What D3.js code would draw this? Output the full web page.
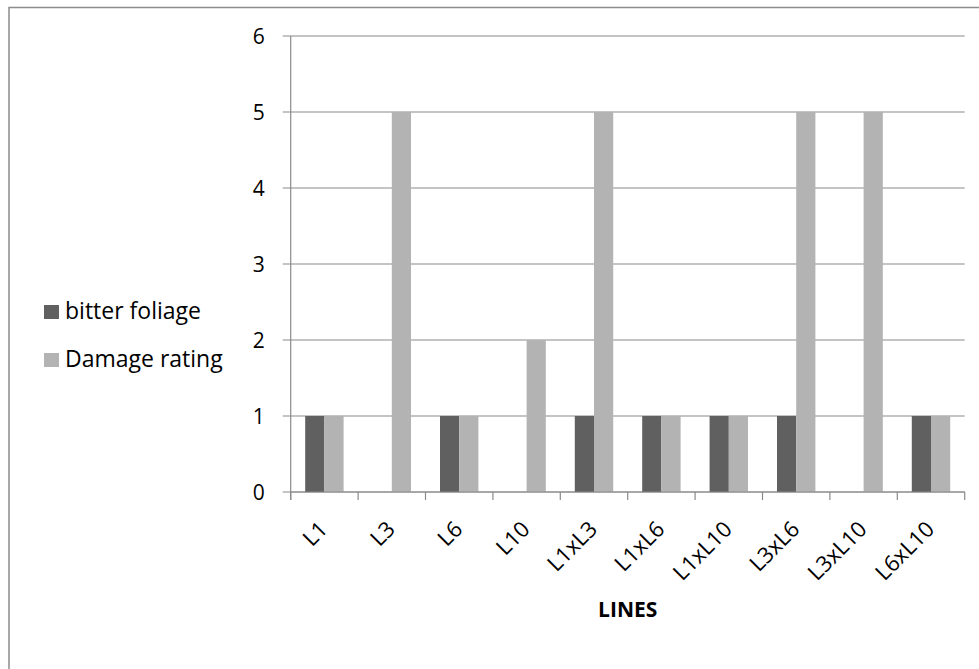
<!DOCTYPE html>
<html><head><meta charset="utf-8">
<script src="https://cdn.jsdelivr.net/npm/d3@7"></script>
<style>body{margin:0;background:#fff}svg{display:block}text{font-family:"Open Sans",sans-serif}</style>
</head><body><svg id="c" width="979" height="669"></svg>
<script>
const categories = ["L1","L3","L6","L10","L1xL3","L1xL6","L1xL10","L3xL6","L3xL10","L6xL10"];
const bitterFoliage = [1,0,1,0,1,1,1,1,0,1];
const damageRating = [1,5,1,2,5,1,1,5,5,1];
const seriesNames = ["bitter foliage","Damage rating"];
const yTicks = [0,1,2,3,4,5,6];
const colors = ["#606060","#b3b3b3"];

const svg = d3.select("#c");
const L = 290.7, R = 964.7, T = 36, B = 492;
// frame
svg.append("rect").attr("x",9).attr("y",7.5).attr("width",1000).attr("height",1000)
  .attr("fill","none").attr("stroke","#8c8c8c").attr("stroke-width",1.5);

const x = d3.scaleBand().domain(categories).range([L,R]).paddingInner(0.43).paddingOuter(0.215);
const x1 = d3.scaleBand().domain([0,1]).range([0,x.bandwidth()]);
const y = d3.scaleLinear().domain([0,6]).range([B,T]);

// gridlines
svg.append("g").selectAll("line").data(yTicks).join("line")
  .attr("x1",L-8).attr("x2",R).attr("y1",d=>y(d)).attr("y2",d=>y(d))
  .attr("stroke","#8a8a8a").attr("stroke-width",1.2);
// y axis
svg.append("line").attr("x1",L).attr("x2",L).attr("y1",T).attr("y2",B+8).attr("stroke","#8a8a8a").attr("stroke-width",1.2);
const yAxis = d3.axisLeft(y).tickValues(yTicks).tickFormat(d3.format("d")).tickSize(0).tickPadding(26);
const gy = svg.append("g").attr("transform",`translate(${L},0)`).call(yAxis);
gy.select(".domain").remove();
gy.selectAll("text").attr("font-size",21).attr("fill","#000").attr("font-family","Open Sans").attr("dy","0.36em");

// bars
const data = categories.map((c,i)=>({c, v:[bitterFoliage[i], damageRating[i]]}));
const g = svg.append("g");
data.forEach(d=>{
  d.v.forEach((v,j)=>{
    g.append("rect").attr("x",x(d.c)+x1(j)).attr("width",x1.bandwidth())
      .attr("y",y(v)).attr("height",y(0)-y(v)).attr("fill",colors[j]);
  });
});

// x axis
const step = (R-L)/categories.length;
svg.append("line").attr("x1",L).attr("x2",R).attr("y1",B).attr("y2",B).attr("stroke","#8a8a8a").attr("stroke-width",1.2);
svg.append("g").selectAll("line").data(d3.range(categories.length+1)).join("line")
  .attr("x1",i=>L+i*step).attr("x2",i=>L+i*step).attr("y1",B).attr("y2",B+8)
  .attr("stroke","#8a8a8a").attr("stroke-width",1.2);
svg.append("g").selectAll("text").data(categories).join("text")
  .attr("transform",d=>`translate(${x(d)+x.bandwidth()/2-1},${525}) rotate(-45)`)
  .attr("text-anchor","end").attr("dy","0.36em").attr("font-size",22).attr("fill","#000").text(d=>d);

svg.append("text").attr("x",(L+R)/2).attr("y",617).attr("text-anchor","middle")
  .attr("font-size",21).attr("font-weight","bold").text("LINES");

// legend
const lg = svg.append("g").selectAll("g").data(seriesNames).join("g")
  .attr("transform",(d,i)=>`translate(44,${305+i*48})`);
lg.append("rect").attr("width",15).attr("height",14).attr("fill",(d,i)=>colors[i]);
lg.append("text").attr("x",21).attr("y",14).attr("font-size",23).text(d=>d);
</script></body></html>
